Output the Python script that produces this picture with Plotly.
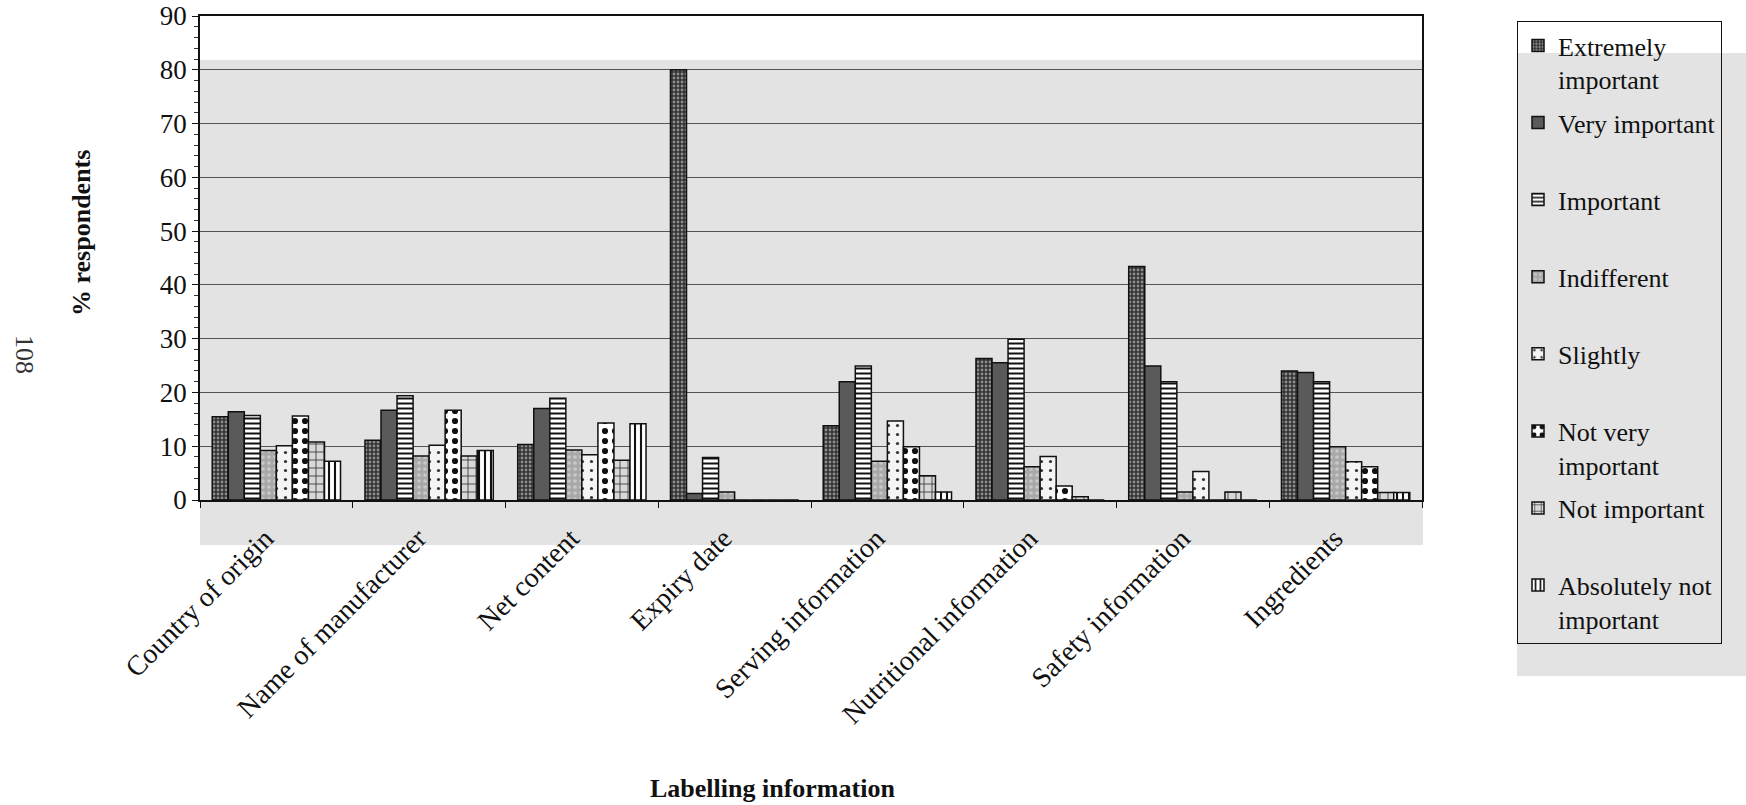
import plotly.graph_objects as go

# Labelling information items shown on the x axis
categories = [
    "Country of origin", "Name of manufacturer", "Net content", "Expiry date",
    "Serving information", "Nutritional information", "Safety information", "Ingredients",
]

# Percentage of respondents for each importance rating
extremely_important = [15.5, 11.1, 10.3, 80.0, 13.8, 26.3, 43.4, 24.0]
very_important = [16.4, 16.7, 17.0, 1.2, 22.0, 25.5, 24.9, 23.7]
important = [15.7, 19.4, 18.9, 7.9, 24.9, 29.9, 22.0, 22.0]
indifferent = [9.2, 8.2, 9.3, 1.5, 7.2, 6.2, 1.5, 9.9]
slightly = [10.1, 10.2, 8.4, 0.0, 14.7, 8.1, 5.3, 7.1]
not_very_important = [15.6, 16.7, 14.3, 0.0, 9.9, 2.6, 0.0, 6.2]
not_important = [10.8, 8.2, 7.4, 0.0, 4.5, 0.6, 1.5, 1.4]
absolutely_not_important = [7.2, 9.2, 14.2, 0.0, 1.5, 0.0, 0.0, 1.4]

series_names = [
    "Extremely<br>important", "Very important<br> ", "Important<br> ", "Indifferent<br> ",
    "Slightly<br> ", "Not very<br>important", "Not important<br> ", "Absolutely not<br>important",
]
series_values = [
    extremely_important, very_important, important, indifferent,
    slightly, not_very_important, not_important, absolutely_not_important,
]

# black-and-white fill styles for each rating
patterns = [
    dict(shape=".", bgcolor="#333333", fgcolor="#8c8c8c", size=4, solidity=0.4),
    dict(shape="", bgcolor="#5a5a5a", fgcolor="#5a5a5a"),
    dict(shape="-", bgcolor="#ffffff", fgcolor="#111111", size=5, solidity=0.4),
    dict(shape=".", bgcolor="#a8a8a8", fgcolor="#c8c8c8", size=6, solidity=0.3),
    dict(shape=".", bgcolor="#f4f4f4", fgcolor="#333333", size=9, solidity=0.1),
    dict(shape=".", bgcolor="#ffffff", fgcolor="#111111", size=10, solidity=0.3),
    dict(shape="+", bgcolor="#d8d8d8", fgcolor="#333333", size=8, solidity=0.2),
    dict(shape="|", bgcolor="#ffffff", fgcolor="#111111", size=6, solidity=0.35),
]

FONT = "Liberation Serif, Times New Roman, serif"

fig = go.Figure()
for i, (name, vals, pat) in enumerate(zip(series_names, series_values, patterns)):
    fig.add_trace(go.Bar(
        name=name,
        x=categories,
        y=vals,
        legendgroup=f"g{i}",
        marker=dict(
            color=pat["bgcolor"],
            pattern=dict(fillmode="replace", **pat),
            line=dict(color="#111111", width=1.5),
        ),
    ))

W, H = 1746, 805
L, R, T, B = 200, 324, 16, 305
pw, ph = W - L - R, H - T - B


def px_x(x):
    return (x - L) / pw


def px_y(y):
    return (H - B - y) / ph


fig.update_layout(
    width=W, height=H,
    margin=dict(l=L, r=R, t=T, b=B, autoexpand=False),
    paper_bgcolor="white",
    plot_bgcolor="rgba(0,0,0,0)",
    barmode="group",
    bargap=0.16,
    bargroupgap=0,
    font=dict(family=FONT, color="#111111", size=26),
    showlegend=True,
    legend=dict(
        x=px_x(1517), y=px_y(21), xanchor="left", yanchor="top",
        bgcolor="rgba(0,0,0,0)", bordercolor="#111111", borderwidth=1,
        font=dict(family=FONT, size=26, color="#111111"),
        traceorder="grouped", tracegroupgap=6.5, valign="top",
        maxheight=700, entrywidth=185,
        itemclick=False,
    ),
    shapes=[
        # shaded panel behind the bars
        dict(type="rect", xref="paper", yref="paper", layer="below",
             x0=0, x1=px_x(1423), y0=px_y(545), y1=px_y(60),
             fillcolor="#e3e3e3", line=dict(width=0)),
        # shaded panel behind the legend
        dict(type="rect", xref="paper", yref="paper", layer="below",
             x0=px_x(1517), x1=px_x(1746), y0=px_y(676), y1=px_y(53),
             fillcolor="#e3e3e3", line=dict(width=0)),
    ],
    annotations=[
        dict(text="<b>% respondents</b>", xref="paper", yref="paper",
             x=px_x(81), y=px_y(233), xanchor="center", yanchor="middle",
             textangle=-90, showarrow=False,
             font=dict(size=26, family=FONT)),
        dict(text="<b>Labelling information</b>", xref="paper", yref="paper",
             x=px_x(772), y=px_y(788), xanchor="center", yanchor="middle",
             showarrow=False,
             font=dict(size=26, family=FONT)),
        dict(text="108", xref="paper", yref="paper",
             x=px_x(25), y=px_y(354), xanchor="center", yanchor="middle",
             textangle=90, showarrow=False,
             font=dict(size=26, family=FONT, color="#333333")),
    ],
)

fig.update_yaxes(
    range=[0, 90], dtick=10, tick0=0,
    showgrid=True, gridcolor="#555555", gridwidth=1,
    showline=True, linecolor="#111111", linewidth=1.5, mirror=True,
    ticks="outside", ticklen=6, tickcolor="#111111",
    minor=dict(dtick=2, ticks="outside", ticklen=4, tickcolor="#333333", showgrid=False),
    tickfont=dict(size=27, family=FONT),
    zeroline=False,
)
fig.update_xaxes(
    showline=True, linecolor="#111111", linewidth=1.5, mirror=True,
    ticks="outside", tickson="boundaries", ticklen=6, tickcolor="#111111",
    tickangle=-45, ticklabelstandoff=9, ticklabelshift=-11,
    tickfont=dict(size=28, family=FONT),
    showgrid=False,
)

fig.write_html("out.html")
